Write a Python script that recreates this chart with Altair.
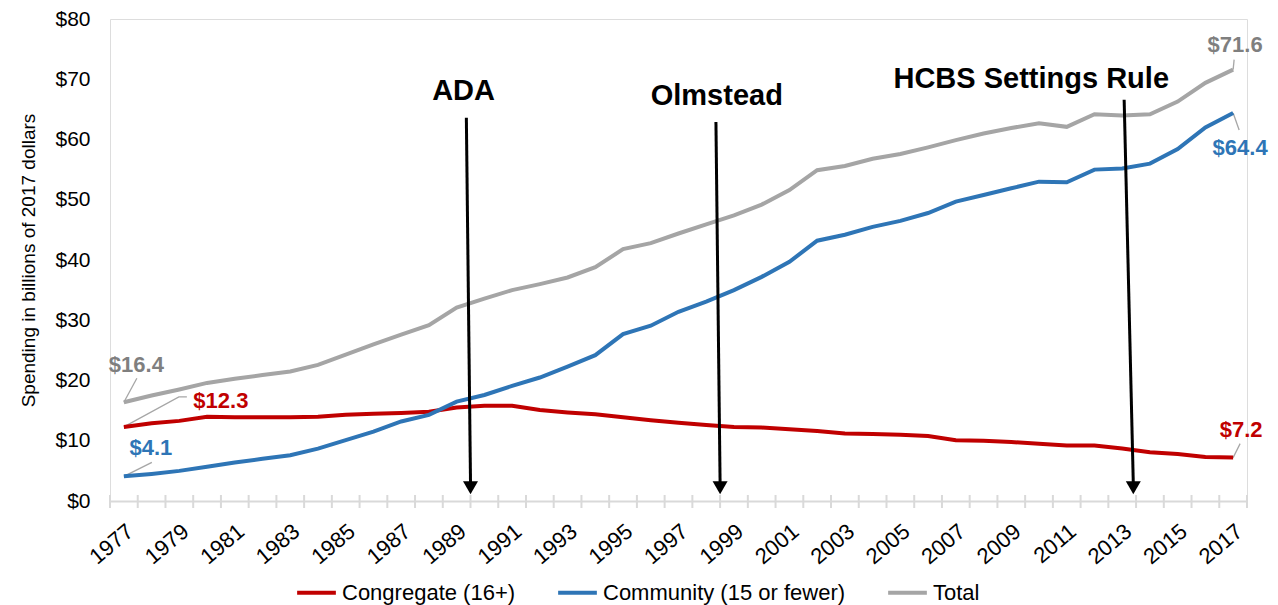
import altair as alt
import pandas as pd

# ---------------- data ----------------
years = list(range(1977, 2018))
congregate = [12.3, 12.9, 13.3, 14.0, 13.9, 13.9, 13.9, 14.0, 14.3, 14.5, 14.6, 14.8, 15.5, 15.8, 15.8,
              15.1, 14.7, 14.4, 13.9, 13.4, 13.0, 12.6, 12.3, 12.2, 11.9, 11.6, 11.2, 11.1, 11.0, 10.8,
              10.1, 10.0, 9.8, 9.5, 9.2, 9.2, 8.7, 8.1, 7.8, 7.3, 7.2]
community = [4.1, 4.5, 5.0, 5.7, 6.4, 7.0, 7.6, 8.7, 10.1, 11.5, 13.2, 14.3, 16.5, 17.6, 19.1,
             20.5, 22.3, 24.2, 27.7, 29.1, 31.4, 33.1, 35.0, 37.2, 39.7, 43.2, 44.2, 45.5, 46.5, 47.8,
             49.7, 50.8, 51.9, 53.0, 52.9, 55.0, 55.2, 56.0, 58.4, 62.0, 64.4]
total = [16.4, 17.5, 18.5, 19.6, 20.3, 20.9, 21.5, 22.6, 24.3, 26.0, 27.6, 29.2, 32.1, 33.6, 35.0,
         36.0, 37.1, 38.8, 41.8, 42.8, 44.4, 45.9, 47.4, 49.2, 51.6, 54.9, 55.6, 56.8, 57.6, 58.7,
         59.9, 61.0, 61.9, 62.7, 62.1, 64.2, 64.0, 64.2, 66.3, 69.4, 71.6]

series_names = ["Congregate (16+)", "Community (15 or fewer)", "Total"]
series_values = [congregate, community, total]

x_tick_labels = list(range(1977, 2018, 2))
y_tick_values = [0, 10, 20, 30, 40, 50, 60, 70, 80]

event_labels = ["ADA", "Olmstead", "HCBS Settings Rule"]
event_arrow_top_year = [1989.35, 1998.35, 2013.07]
event_arrow_bottom_year = [1989.5, 1998.5, 2013.4]

# ---------------- style ----------------
FONT = "Liberation Sans"
line_colors = ["#C00000", "#2E75B6", "#A5A5A5"]
label_colors = ["#C00000", "#2E75B6", "#7F7F7F"]
AXIS_GRAY = "#D9D9D9"
W, H = 1137, 482
X_DOMAIN = [1976.5, 2017.5]
Y_DOMAIN = [0, 80]
PX_YEAR = W / (X_DOMAIN[1] - X_DOMAIN[0])
PX_VAL = H / (Y_DOMAIN[1] - Y_DOMAIN[0])

event_text_dx = [-0.1, 0.03, -3.35]     # in years relative to arrow top
event_text_value = [66.6, 65.7, 68.5]
arrow_top_value = [63.6, 62.9, 66.6]
arrow_bottom_value = 3.0
arrow_head_value = 2.2

# end-point label offsets in pixels: (series index, year index, dx, dy)
end_labels = [
    (2, 0, 12.5, -30), (0, 0, 97, -19), (1, 0, 27, -21),
    (2, -1, 2, -18), (1, -1, 7, 42), (0, -1, 8, -21),
]
leader_paths = [
    (2, 0, [(0, 0), (13, -24)]),
    (0, 0, [(0, 0), (55, -30), (63, -30)]),
    (1, 0, [(0, 0), (28, -14)]),
    (2, -1, [(0, 0), (1, -10)]),
    (1, -1, [(0, 0), (6, 17)]),
    (0, -1, [(0, 0), (7, -14)]),
]

# ---------------- tables ----------------
rows = []
for name, vals in zip(series_names, series_values):
    for yr, v in zip(years, vals):
        rows.append({"year": yr, "value": v, "series": name})
df_lines = pd.DataFrame(rows)

lab_rows = []
for si, yi, dx, dy in end_labels:
    v = series_values[si][yi]
    lab_rows.append({"year": years[yi] + dx / PX_YEAR, "value": v - dy / PX_VAL,
                     "text": f"${v:.1f}", "color": label_colors[si]})
df_labels = pd.DataFrame(lab_rows)

lead_rows = []
for k, (si, yi, pts) in enumerate(leader_paths):
    v = series_values[si][yi]
    for o, (dx, dy) in enumerate(pts):
        lead_rows.append({"id": k, "ord": o, "year": years[yi] + dx / PX_YEAR,
                          "value": v - dy / PX_VAL})
df_leaders = pd.DataFrame(lead_rows)

df_events = pd.DataFrame({
    "label": event_labels,
    "x_top": event_arrow_top_year,
    "x_bot": event_arrow_bottom_year,
    "y_top": arrow_top_value,
    "y_bot": [arrow_bottom_value] * 3,
    "y_head": [arrow_head_value] * 3,
    "tx": [t + d for t, d in zip(event_arrow_top_year, event_text_dx)],
    "ty": event_text_value,
})

df_ticks = pd.DataFrame({"year": [y - 0.5 for y in years] + [years[-1] + 0.5]})

# ---------------- encodings ----------------
x_scale = alt.Scale(domain=X_DOMAIN, nice=False, zero=False)
y_scale = alt.Scale(domain=Y_DOMAIN, nice=False)
x_axis = alt.Axis(values=x_tick_labels, format="d", labelAngle=-40, ticks=False, grid=False,
                  domain=True, domainColor=AXIS_GRAY, domainWidth=2, labelFontSize=22,
                  labelFont=FONT, labelColor="#000000", labelPadding=27, labelOffset=6,
                  labelAlign="right", labelBaseline="middle", title=None, labelFlush=False,
                  labelOverlap=False)
y_axis = alt.Axis(values=y_tick_values, labelExpr="'$' + datum.value", ticks=False, grid=False,
                  domain=False, labelFontSize=21, labelFont=FONT, labelColor="#000000",
                  labelPadding=20, title="Spending in billions of 2017 dollars",
                  titleFont=FONT, titleFontSize=19, titleFontWeight="normal",
                  titleColor="#000000", titlePadding=16)


def X(field):
    return alt.X(f"{field}:Q", scale=x_scale, axis=x_axis)


def Y(field):
    return alt.Y(f"{field}:Q", scale=y_scale, axis=y_axis)


ticks = alt.Chart(df_ticks).mark_rule(color=AXIS_GRAY, strokeWidth=2).encode(
    x=X("year"), y=alt.value(H - 6), y2=alt.value(H + 7))

leaders = alt.Chart(df_leaders).mark_line(color="#A6A6A6", strokeWidth=1.3).encode(
    x=X("year"), y=Y("value"), detail="id:N", order="ord:Q")

lines = alt.Chart(df_lines).mark_line(strokeWidth=4).encode(
    x=X("year"), y=Y("value"),
    color=alt.Color("series:N",
                    scale=alt.Scale(domain=series_names, range=line_colors),
                    sort=series_names,
                    legend=alt.Legend(orient="none", legendX=185, legendY=552,
                                      direction="horizontal", title=None,
                                      symbolType="stroke", symbolStrokeWidth=4,
                                      symbolSize=1500, labelFontSize=22, labelFont=FONT,
                                      labelColor="#000000", labelOffset=4, labelLimit=0,
                                      columnPadding=34, padding=0)),
)

labels = alt.Chart(df_labels).mark_text(font=FONT, fontSize=22, fontWeight="bold",
                                        baseline="alphabetic", align="center").encode(
    x=X("year"), y=Y("value"), text="text:N", color=alt.Color("color:N", scale=None))

arrows = alt.Chart(df_events).mark_rule(color="#000000", strokeWidth=3).encode(
    x=X("x_top"), x2="x_bot:Q", y=Y("y_top"), y2="y_bot:Q")

heads = alt.Chart(df_events).mark_point(shape="triangle-down", filled=True, size=225,
                                        color="#000000", opacity=1).encode(
    x=X("x_bot"), y=Y("y_head"))

event_text = alt.Chart(df_events).mark_text(font=FONT, fontSize=29, fontWeight="bold",
                                            baseline="alphabetic", align="center",
                                            color="#000000").encode(
    x=X("tx"), y=Y("ty"), text="label:N")

chart = alt.layer(ticks, leaders, lines, labels, arrows, heads, event_text).properties(
    width=W, height=H,
    autosize=alt.AutoSizeParams(type="none"),
    padding={"left": 102, "top": 11, "right": 23, "bottom": 104},
).configure_view(stroke=None).configure(background="white")

chart.save("out.html", embed_options={"renderer": "svg", "actions": False})
